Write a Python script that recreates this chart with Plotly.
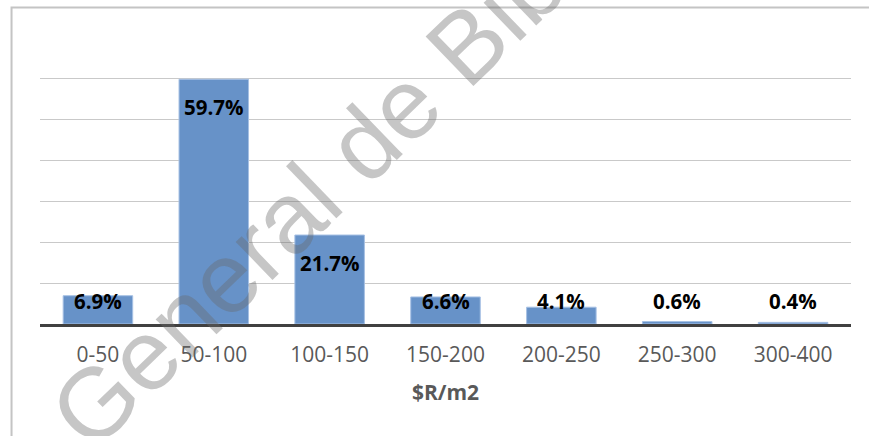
import plotly.graph_objects as go

categories = ["0-50", "50-100", "100-150", "150-200", "200-250", "250-300", "300-400"]
shares = [6.9, 59.7, 21.7, 6.6, 4.1, 0.6, 0.4]
label_texts = ["6.9%", "59.7%", "21.7%", "6.6%", "4.1%", "0.6%", "0.4%"]
x_title = "$R/m2"
watermark = "General de Bibliotecas"

fig = go.Figure()
fig.add_trace(go.Bar(
    x=categories, y=shares,
    marker=dict(color="#6792c8", line=dict(color="#a6c0e4", width=1)),
    hoverinfo="x+y",
))

# data labels: "inside end", but never lower than a minimum height
for c, v, t in zip(categories, shares, label_texts):
    fig.add_annotation(
        x=c, y=max(v - 6.8, 5.6), xref="x", yref="y", text=f"<b>{t}</b>",
        showarrow=False, yanchor="middle", xanchor="center",
        font=dict(family="Open Sans", size=20.5, color="#000000"),
    )

# watermark
fig.add_annotation(
    x=0.48, y=0.85, xref="paper", yref="paper", text=watermark,
    showarrow=False, textangle=-44, xanchor="center", yanchor="middle",
    font=dict(family="Liberation Sans", size=100, color="rgba(105,105,105,0.38)"),
)

# outer chart border (partially visible)
fig.add_shape(type="rect", xref="paper", yref="paper",
              x0=-0.0351, x1=1.2, y0=-0.6, y1=1.1028,
              line=dict(color="#c4c4c4", width=2), layer="below")

fig.update_layout(
    width=869, height=436,
    margin=dict(l=40, r=18, t=37, b=112),
    paper_bgcolor="white", plot_bgcolor="white",
    bargap=0.4, showlegend=False,
    xaxis=dict(
        showline=True, linecolor="#404040", linewidth=3,
        tickfont=dict(family="Open Sans", size=21, color="#595959"),
        ticks="", showgrid=False, ticklabelstandoff=10,
        title=dict(text="<b>" + x_title + "</b>", standoff=19,
                   font=dict(family="Open Sans", size=21, color="#595959")),
    ),
    yaxis=dict(
        range=[0, 70], dtick=10, showticklabels=False,
        showgrid=True, gridcolor="#c9c9c9", gridwidth=1,
        zeroline=False, showline=False,
    ),
)

fig.write_html("out.html")
